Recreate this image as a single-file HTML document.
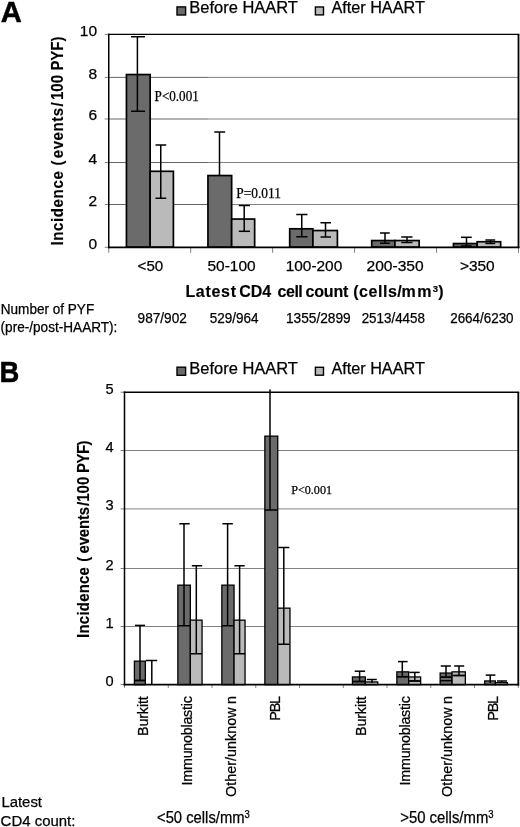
<!DOCTYPE html>
<html lang="en"><head><meta charset="utf-8"><title>Figure</title>
<style>
html,body{margin:0;padding:0;background:#fff;}
body{width:520px;height:827px;overflow:hidden;}
svg{display:block;}
text{fill:#000;stroke:#000;stroke-width:0.25px;}
text[font-weight=bold]{stroke-width:0.15px;}
text.big{stroke-width:0.45px;}
</style></head><body>
<svg width="520" height="827" viewBox="0 0 520 827">
<rect width="520" height="827" fill="#fff"/>
<line x1="108.75" y1="204.5" x2="208" y2="204.5" stroke="#666" stroke-width="1"/>
<line x1="208" y1="204.5" x2="518.5" y2="204.5" stroke="#828282" stroke-width="1"/>
<line x1="108.75" y1="162.5" x2="208" y2="162.5" stroke="#666" stroke-width="1"/>
<line x1="208" y1="162.5" x2="518.5" y2="162.5" stroke="#828282" stroke-width="1"/>
<line x1="108.75" y1="119.0" x2="208" y2="119.0" stroke="#666" stroke-width="1"/>
<line x1="208" y1="119.0" x2="518.5" y2="119.0" stroke="#828282" stroke-width="1"/>
<line x1="108.75" y1="77.4" x2="208" y2="77.4" stroke="#666" stroke-width="1"/>
<line x1="208" y1="77.4" x2="518.5" y2="77.4" stroke="#828282" stroke-width="1"/>
<line x1="104.75" y1="247.3" x2="108.75" y2="247.3" stroke="#828282" stroke-width="1"/>
<line x1="104.75" y1="204.5" x2="108.75" y2="204.5" stroke="#828282" stroke-width="1"/>
<line x1="104.75" y1="162.5" x2="108.75" y2="162.5" stroke="#828282" stroke-width="1"/>
<line x1="104.75" y1="119.0" x2="108.75" y2="119.0" stroke="#828282" stroke-width="1"/>
<line x1="104.75" y1="77.4" x2="108.75" y2="77.4" stroke="#828282" stroke-width="1"/>
<line x1="104.75" y1="34.4" x2="108.75" y2="34.4" stroke="#828282" stroke-width="1"/>
<line x1="108.75" y1="247.3" x2="108.75" y2="252.8" stroke="#828282" stroke-width="1"/>
<line x1="190.7" y1="247.3" x2="190.7" y2="252.8" stroke="#828282" stroke-width="1"/>
<line x1="272.65" y1="247.3" x2="272.65" y2="252.8" stroke="#828282" stroke-width="1"/>
<line x1="354.6" y1="247.3" x2="354.6" y2="252.8" stroke="#828282" stroke-width="1"/>
<line x1="436.55" y1="247.3" x2="436.55" y2="252.8" stroke="#828282" stroke-width="1"/>
<line x1="518.5" y1="247.3" x2="518.5" y2="252.8" stroke="#828282" stroke-width="1"/>
<rect x="126.45" y="74.55" width="23.70" height="172.60" fill="#6b6b6b" stroke="#000" stroke-width="1.7"/>
<rect x="150.15" y="171.30" width="23.25" height="75.85" fill="#bababa" stroke="#000" stroke-width="1.7"/>
<rect x="207.95" y="175.55" width="23.70" height="71.60" fill="#6b6b6b" stroke="#000" stroke-width="1.7"/>
<rect x="231.65" y="219.05" width="23.00" height="28.10" fill="#bababa" stroke="#000" stroke-width="1.7"/>
<rect x="289.70" y="228.80" width="23.20" height="18.35" fill="#6b6b6b" stroke="#000" stroke-width="1.7"/>
<rect x="312.90" y="230.55" width="24.50" height="16.60" fill="#bababa" stroke="#000" stroke-width="1.7"/>
<rect x="371.70" y="240.55" width="23.20" height="6.60" fill="#6b6b6b" stroke="#000" stroke-width="1.7"/>
<rect x="394.90" y="240.55" width="24.25" height="6.60" fill="#bababa" stroke="#000" stroke-width="1.7"/>
<rect x="453.45" y="243.55" width="23.70" height="3.60" fill="#6b6b6b" stroke="#000" stroke-width="1.7"/>
<rect x="477.15" y="241.75" width="23.50" height="5.40" fill="#bababa" stroke="#000" stroke-width="1.7"/>
<line x1="108.75" y1="33.699999999999996" x2="108.75" y2="248.15" stroke="#000" stroke-width="1.5"/>
<line x1="108.0" y1="34.4" x2="519.4" y2="34.4" stroke="#000" stroke-width="1.4"/>
<line x1="518.5" y1="34.4" x2="518.5" y2="248.15" stroke="#000" stroke-width="1.8"/>
<line x1="108.0" y1="247.3" x2="519.4" y2="247.3" stroke="#000" stroke-width="1.7"/>
<line x1="137.4" y1="36.75" x2="137.4" y2="111.25" stroke="#000" stroke-width="1.5"/>
<line x1="131" y1="36.75" x2="145" y2="36.75" stroke="#000" stroke-width="1.5"/>
<line x1="131" y1="111.25" x2="145" y2="111.25" stroke="#000" stroke-width="1.5"/>
<line x1="160.75" y1="145" x2="160.75" y2="198.25" stroke="#000" stroke-width="1.5"/>
<line x1="155.5" y1="145" x2="166.25" y2="145" stroke="#000" stroke-width="1.5"/>
<line x1="155.5" y1="198.25" x2="166.25" y2="198.25" stroke="#000" stroke-width="1.5"/>
<line x1="219.5" y1="132" x2="219.5" y2="175" stroke="#000" stroke-width="1.5"/>
<line x1="214.3" y1="132" x2="225.2" y2="132" stroke="#000" stroke-width="1.5"/>
<line x1="244.2" y1="205.5" x2="244.2" y2="231.3" stroke="#000" stroke-width="1.5"/>
<line x1="238.8" y1="205.5" x2="250" y2="205.5" stroke="#000" stroke-width="1.5"/>
<line x1="238.8" y1="231.3" x2="250" y2="231.3" stroke="#000" stroke-width="1.5"/>
<line x1="301.75" y1="214.5" x2="301.75" y2="236.75" stroke="#000" stroke-width="1.5"/>
<line x1="296.25" y1="214.5" x2="307.5" y2="214.5" stroke="#000" stroke-width="1.5"/>
<line x1="296.25" y1="236.75" x2="307.5" y2="236.75" stroke="#000" stroke-width="1.5"/>
<line x1="325.5" y1="222.75" x2="325.5" y2="237" stroke="#000" stroke-width="1.5"/>
<line x1="320.5" y1="222.75" x2="331" y2="222.75" stroke="#000" stroke-width="1.5"/>
<line x1="320.5" y1="237" x2="331" y2="237" stroke="#000" stroke-width="1.5"/>
<line x1="385" y1="233" x2="385" y2="243.25" stroke="#000" stroke-width="1.5"/>
<line x1="380" y1="233" x2="389.75" y2="233" stroke="#000" stroke-width="1.5"/>
<line x1="380" y1="243.25" x2="389.75" y2="243.25" stroke="#000" stroke-width="1.5"/>
<line x1="407" y1="237" x2="407" y2="242.5" stroke="#000" stroke-width="1.5"/>
<line x1="401.25" y1="237" x2="412.5" y2="237" stroke="#000" stroke-width="1.5"/>
<line x1="401.25" y1="242.5" x2="412.5" y2="242.5" stroke="#000" stroke-width="1.5"/>
<line x1="466.5" y1="237.3" x2="466.5" y2="246" stroke="#000" stroke-width="1.5"/>
<line x1="461" y1="237.3" x2="471.75" y2="237.3" stroke="#000" stroke-width="1.5"/>
<line x1="461" y1="246" x2="471.75" y2="246" stroke="#000" stroke-width="1.5"/>
<line x1="490.5" y1="240" x2="490.5" y2="243.5" stroke="#000" stroke-width="1.5"/>
<line x1="485.4" y1="240" x2="495.2" y2="240" stroke="#000" stroke-width="1.5"/>
<line x1="485.4" y1="243.5" x2="495.2" y2="243.5" stroke="#000" stroke-width="1.5"/>
<text x="97.1" y="248.5" font-family='"Liberation Sans", Arial, Helvetica, sans-serif' font-size="15.5" font-weight="normal" text-anchor="end">0</text>
<text x="97.1" y="205.7" font-family='"Liberation Sans", Arial, Helvetica, sans-serif' font-size="15.5" font-weight="normal" text-anchor="end">2</text>
<text x="97.1" y="163.7" font-family='"Liberation Sans", Arial, Helvetica, sans-serif' font-size="15.5" font-weight="normal" text-anchor="end">4</text>
<text x="97.1" y="120.2" font-family='"Liberation Sans", Arial, Helvetica, sans-serif' font-size="15.5" font-weight="normal" text-anchor="end">6</text>
<text x="97.1" y="78.60000000000001" font-family='"Liberation Sans", Arial, Helvetica, sans-serif' font-size="15.5" font-weight="normal" text-anchor="end">8</text>
<text x="97.1" y="35.6" font-family='"Liberation Sans", Arial, Helvetica, sans-serif' font-size="15.5" font-weight="normal" text-anchor="end">10</text>
<text x="150.4" y="271.4" font-family='"Liberation Sans", Arial, Helvetica, sans-serif' font-size="15" font-weight="normal" text-anchor="middle" textLength="25.6" lengthAdjust="spacingAndGlyphs">&lt;50</text>
<text x="231.6" y="271.4" font-family='"Liberation Sans", Arial, Helvetica, sans-serif' font-size="15" font-weight="normal" text-anchor="middle" textLength="48.2" lengthAdjust="spacingAndGlyphs">50-100</text>
<text x="314.0" y="271.4" font-family='"Liberation Sans", Arial, Helvetica, sans-serif' font-size="15" font-weight="normal" text-anchor="middle" textLength="56.6" lengthAdjust="spacingAndGlyphs">100-200</text>
<text x="395.1" y="271.4" font-family='"Liberation Sans", Arial, Helvetica, sans-serif' font-size="15" font-weight="normal" text-anchor="middle" textLength="57.2" lengthAdjust="spacingAndGlyphs">200-350</text>
<text x="477.3" y="271.4" font-family='"Liberation Sans", Arial, Helvetica, sans-serif' font-size="15" font-weight="normal" text-anchor="middle" textLength="34.8" lengthAdjust="spacingAndGlyphs">&gt;350</text>
<text y="296.5" font-family='"Liberation Sans", Arial, Helvetica, sans-serif' font-size="16" font-weight="bold"><tspan x="185.4" textLength="50.6" lengthAdjust="spacing">Latest</tspan> <tspan x="239.2" textLength="32" lengthAdjust="spacing">CD4</tspan> <tspan x="277.6" textLength="25.2" lengthAdjust="spacing">cell</tspan> <tspan x="305.4" textLength="43" lengthAdjust="spacing">count</tspan> <tspan x="353.2" textLength="48.6" lengthAdjust="spacing">(cells/</tspan><tspan x="401.6">m</tspan><tspan x="417.2">m</tspan><tspan x="432.8" dy="-4.8" font-size="9.5">3</tspan><tspan x="438.2" dy="4.8">)</tspan></text>
<text transform="translate(62.9 245.6) rotate(-90) scale(0.875 1)" font-family='"Liberation Sans", Arial, Helvetica, sans-serif' font-size="17.2" font-weight="bold"><tspan x="0.0" textLength="85.03" lengthAdjust="spacing">Incidence</tspan> <tspan x="91.66">(</tspan><tspan x="99.89" textLength="57.6" lengthAdjust="spacing">events</tspan><tspan x="158.86">/</tspan><tspan x="166.4">100</tspan> <tspan x="200.0" textLength="38.86" lengthAdjust="spacing">PYF)</tspan></text>
<text x="154.6" y="101.2" font-family='"Liberation Serif", "Times New Roman", Times, serif' font-size="13.6" font-weight="normal" text-anchor="start" textLength="44.2" lengthAdjust="spacingAndGlyphs" stroke="none">P&lt;0.001</text>
<text x="236.3" y="197.5" font-family='"Liberation Serif", "Times New Roman", Times, serif' font-size="13.6" font-weight="normal" text-anchor="start" textLength="44.6" lengthAdjust="spacingAndGlyphs" stroke="none">P=0.011</text>
<rect x="177.00" y="6.90" width="8.60" height="8.10" fill="#6b6b6b" stroke="#000" stroke-width="1.4"/>
<text x="189.3" y="12.9" font-family='"Liberation Sans", Arial, Helvetica, sans-serif' font-size="16" font-weight="normal" text-anchor="start" textLength="108.6" lengthAdjust="spacingAndGlyphs">Before HAART</text>
<rect x="315.40" y="7.00" width="8.10" height="7.90" fill="#bababa" stroke="#000" stroke-width="1.4"/>
<text x="331.4" y="12.9" font-family='"Liberation Sans", Arial, Helvetica, sans-serif' font-size="16" font-weight="normal" text-anchor="start" textLength="93.4" lengthAdjust="spacingAndGlyphs">After HAART</text>
<text x="0.8" y="21.7" font-family='"Liberation Sans", Arial, Helvetica, sans-serif' font-size="29.2" font-weight="bold" text-anchor="start" class="big">A</text>
<text x="0.8" y="314.3" font-family='"Liberation Sans", Arial, Helvetica, sans-serif' font-size="14.2" font-weight="normal" text-anchor="start" textLength="93.4" lengthAdjust="spacingAndGlyphs">Number of PYF</text>
<text x="0.6" y="331.9" font-family='"Liberation Sans", Arial, Helvetica, sans-serif' font-size="14.2" font-weight="normal" text-anchor="start" textLength="116.8" lengthAdjust="spacingAndGlyphs">(pre-/post-HAART):</text>
<text x="137.6" y="323.0" font-family='"Liberation Sans", Arial, Helvetica, sans-serif' font-size="14.2" font-weight="normal" text-anchor="start" textLength="49.2" lengthAdjust="spacingAndGlyphs">987/902</text>
<text x="209.7" y="323.0" font-family='"Liberation Sans", Arial, Helvetica, sans-serif' font-size="14.2" font-weight="normal" text-anchor="start" textLength="48.800000000000004" lengthAdjust="spacingAndGlyphs">529/964</text>
<text x="285.9" y="323.0" font-family='"Liberation Sans", Arial, Helvetica, sans-serif' font-size="14.2" font-weight="normal" text-anchor="start" textLength="64.8" lengthAdjust="spacingAndGlyphs">1355/2899</text>
<text x="361.7" y="323.0" font-family='"Liberation Sans", Arial, Helvetica, sans-serif' font-size="14.2" font-weight="normal" text-anchor="start" textLength="63.2" lengthAdjust="spacingAndGlyphs">2513/4458</text>
<text x="450.2" y="323.0" font-family='"Liberation Sans", Arial, Helvetica, sans-serif' font-size="14.2" font-weight="normal" text-anchor="start" textLength="63.4" lengthAdjust="spacingAndGlyphs">2664/6230</text>
<line x1="124.5" y1="626.5" x2="518.3" y2="626.5" stroke="#828282" stroke-width="1"/>
<line x1="124.5" y1="568.5" x2="518.3" y2="568.5" stroke="#828282" stroke-width="1"/>
<line x1="124.5" y1="508.9" x2="518.3" y2="508.9" stroke="#828282" stroke-width="1"/>
<line x1="124.5" y1="450.5" x2="518.3" y2="450.5" stroke="#828282" stroke-width="1"/>
<line x1="120.5" y1="684.5" x2="124.5" y2="684.5" stroke="#828282" stroke-width="1"/>
<line x1="120.5" y1="626.5" x2="124.5" y2="626.5" stroke="#828282" stroke-width="1"/>
<line x1="120.5" y1="568.5" x2="124.5" y2="568.5" stroke="#828282" stroke-width="1"/>
<line x1="120.5" y1="508.9" x2="124.5" y2="508.9" stroke="#828282" stroke-width="1"/>
<line x1="120.5" y1="450.5" x2="124.5" y2="450.5" stroke="#828282" stroke-width="1"/>
<line x1="120.5" y1="392.2" x2="124.5" y2="392.2" stroke="#828282" stroke-width="1"/>
<line x1="124.5" y1="684.6" x2="124.5" y2="688.1" stroke="#828282" stroke-width="1"/>
<line x1="168.25555555555556" y1="684.6" x2="168.25555555555556" y2="688.1" stroke="#828282" stroke-width="1"/>
<line x1="212.01111111111112" y1="684.6" x2="212.01111111111112" y2="688.1" stroke="#828282" stroke-width="1"/>
<line x1="255.76666666666665" y1="684.6" x2="255.76666666666665" y2="688.1" stroke="#828282" stroke-width="1"/>
<line x1="299.52222222222224" y1="684.6" x2="299.52222222222224" y2="688.1" stroke="#828282" stroke-width="1"/>
<line x1="343.27777777777777" y1="684.6" x2="343.27777777777777" y2="688.1" stroke="#828282" stroke-width="1"/>
<line x1="387.0333333333333" y1="684.6" x2="387.0333333333333" y2="688.1" stroke="#828282" stroke-width="1"/>
<line x1="430.7888888888889" y1="684.6" x2="430.7888888888889" y2="688.1" stroke="#828282" stroke-width="1"/>
<line x1="474.5444444444444" y1="684.6" x2="474.5444444444444" y2="688.1" stroke="#828282" stroke-width="1"/>
<line x1="518.3" y1="684.6" x2="518.3" y2="688.1" stroke="#828282" stroke-width="1"/>
<rect x="134.40" y="661.15" width="10.95" height="23.50" fill="#6b6b6b" stroke="#000" stroke-width="1.3"/>
<rect x="177.85" y="585.15" width="12.50" height="99.50" fill="#6b6b6b" stroke="#000" stroke-width="1.3"/>
<rect x="190.35" y="620.15" width="11.70" height="64.50" fill="#bababa" stroke="#000" stroke-width="1.3"/>
<rect x="221.85" y="585.15" width="12.20" height="99.50" fill="#6b6b6b" stroke="#000" stroke-width="1.3"/>
<rect x="234.05" y="620.15" width="11.00" height="64.50" fill="#bababa" stroke="#000" stroke-width="1.3"/>
<rect x="264.85" y="436.15" width="12.90" height="248.50" fill="#6b6b6b" stroke="#000" stroke-width="1.3"/>
<rect x="277.75" y="608.15" width="12.20" height="76.50" fill="#bababa" stroke="#000" stroke-width="1.3"/>
<rect x="352.45" y="676.95" width="12.90" height="7.70" fill="#6b6b6b" stroke="#000" stroke-width="1.3"/>
<rect x="365.35" y="681.95" width="12.40" height="2.70" fill="#bababa" stroke="#000" stroke-width="1.3"/>
<rect x="396.85" y="671.85" width="11.80" height="12.80" fill="#6b6b6b" stroke="#000" stroke-width="1.3"/>
<rect x="408.65" y="676.95" width="12.00" height="7.70" fill="#bababa" stroke="#000" stroke-width="1.3"/>
<rect x="440.15" y="673.05" width="11.90" height="11.60" fill="#6b6b6b" stroke="#000" stroke-width="1.3"/>
<rect x="452.05" y="671.85" width="13.30" height="12.80" fill="#bababa" stroke="#000" stroke-width="1.3"/>
<rect x="484.65" y="680.95" width="10.70" height="3.70" fill="#6b6b6b" stroke="#000" stroke-width="1.3"/>
<rect x="495.35" y="682.65" width="11.90" height="2.00" fill="#bababa" stroke="#000" stroke-width="1.3"/>
<line x1="124.5" y1="391.5" x2="124.5" y2="685.45" stroke="#000" stroke-width="1.5"/>
<line x1="123.75" y1="392.2" x2="519.1999999999999" y2="392.2" stroke="#000" stroke-width="1.4"/>
<line x1="518.3" y1="392.2" x2="518.3" y2="685.45" stroke="#000" stroke-width="1.8"/>
<line x1="123.75" y1="684.6" x2="519.1999999999999" y2="684.6" stroke="#000" stroke-width="1.7"/>
<line x1="140" y1="625.4" x2="140" y2="680.5" stroke="#000" stroke-width="1.5"/>
<line x1="135" y1="625.4" x2="145" y2="625.4" stroke="#000" stroke-width="1.5"/>
<line x1="135" y1="680.5" x2="145" y2="680.5" stroke="#000" stroke-width="1.5"/>
<line x1="134.4" y1="680.5" x2="145.4" y2="680.5" stroke="#000" stroke-width="1.5"/>
<line x1="151.8" y1="660.5" x2="151.8" y2="684.6" stroke="#000" stroke-width="1.5"/>
<line x1="146" y1="660.5" x2="157.2" y2="660.5" stroke="#000" stroke-width="1.5"/>
<line x1="184" y1="523.75" x2="184" y2="625.75" stroke="#000" stroke-width="1.5"/>
<line x1="179.3" y1="523.75" x2="189.7" y2="523.75" stroke="#000" stroke-width="1.5"/>
<line x1="177.8" y1="625.75" x2="190.4" y2="625.75" stroke="#000" stroke-width="1.5"/>
<line x1="196.3" y1="565.75" x2="196.3" y2="653.75" stroke="#000" stroke-width="1.5"/>
<line x1="191.8" y1="565.75" x2="202.2" y2="565.75" stroke="#000" stroke-width="1.5"/>
<line x1="190.4" y1="653.75" x2="202.2" y2="653.75" stroke="#000" stroke-width="1.5"/>
<line x1="227.6" y1="523.75" x2="227.6" y2="625.75" stroke="#000" stroke-width="1.5"/>
<line x1="222.4" y1="523.75" x2="232.8" y2="523.75" stroke="#000" stroke-width="1.5"/>
<line x1="221.8" y1="625.75" x2="234.2" y2="625.75" stroke="#000" stroke-width="1.5"/>
<line x1="239.6" y1="565.75" x2="239.6" y2="653.75" stroke="#000" stroke-width="1.5"/>
<line x1="234.4" y1="565.75" x2="244.7" y2="565.75" stroke="#000" stroke-width="1.5"/>
<line x1="234" y1="653.75" x2="245.2" y2="653.75" stroke="#000" stroke-width="1.5"/>
<line x1="270" y1="389.5" x2="270" y2="510" stroke="#000" stroke-width="1.5"/>
<line x1="264.8" y1="510" x2="277.9" y2="510" stroke="#000" stroke-width="1.5"/>
<line x1="283.8" y1="547.5" x2="283.8" y2="644.25" stroke="#000" stroke-width="1.5"/>
<line x1="278.3" y1="547.5" x2="289.4" y2="547.5" stroke="#000" stroke-width="1.5"/>
<line x1="277.9" y1="644.25" x2="290" y2="644.25" stroke="#000" stroke-width="1.5"/>
<line x1="359.6" y1="671.2" x2="359.6" y2="681.5" stroke="#000" stroke-width="1.5"/>
<line x1="354.7" y1="671.2" x2="365.1" y2="671.2" stroke="#000" stroke-width="1.5"/>
<line x1="354.7" y1="681.5" x2="365.1" y2="681.5" stroke="#000" stroke-width="1.5"/>
<line x1="352.4" y1="681.5" x2="365.4" y2="681.5" stroke="#000" stroke-width="1.5"/>
<line x1="372" y1="679.5" x2="372" y2="683" stroke="#000" stroke-width="1.5"/>
<line x1="366.8" y1="679.5" x2="376.8" y2="679.5" stroke="#000" stroke-width="1.5"/>
<line x1="402.3" y1="661.6" x2="402.3" y2="676.7" stroke="#000" stroke-width="1.5"/>
<line x1="398" y1="661.6" x2="407.6" y2="661.6" stroke="#000" stroke-width="1.5"/>
<line x1="398" y1="676.7" x2="407.6" y2="676.7" stroke="#000" stroke-width="1.5"/>
<line x1="396.8" y1="676.7" x2="408.8" y2="676.7" stroke="#000" stroke-width="1.5"/>
<line x1="414.8" y1="672.4" x2="414.8" y2="681" stroke="#000" stroke-width="1.5"/>
<line x1="409.3" y1="672.4" x2="419.7" y2="672.4" stroke="#000" stroke-width="1.5"/>
<line x1="409.3" y1="681" x2="419.7" y2="681" stroke="#000" stroke-width="1.5"/>
<line x1="409" y1="681" x2="420.8" y2="681" stroke="#000" stroke-width="1.5"/>
<line x1="446" y1="666" x2="446" y2="677.2" stroke="#000" stroke-width="1.5"/>
<line x1="440.7" y1="666" x2="450.9" y2="666" stroke="#000" stroke-width="1.5"/>
<line x1="440.7" y1="677.2" x2="450.9" y2="677.2" stroke="#000" stroke-width="1.5"/>
<line x1="440" y1="677.2" x2="452.2" y2="677.2" stroke="#000" stroke-width="1.5"/>
<line x1="440" y1="680.7" x2="452.2" y2="680.7" stroke="#000" stroke-width="1.5"/>
<line x1="459" y1="666" x2="459" y2="675.5" stroke="#000" stroke-width="1.5"/>
<line x1="454.2" y1="666" x2="464.2" y2="666" stroke="#000" stroke-width="1.5"/>
<line x1="454.2" y1="675.5" x2="464.2" y2="675.5" stroke="#000" stroke-width="1.5"/>
<line x1="452.4" y1="675.5" x2="465.4" y2="675.5" stroke="#000" stroke-width="1.5"/>
<line x1="490.2" y1="675.1" x2="490.2" y2="683" stroke="#000" stroke-width="1.5"/>
<line x1="485.7" y1="675.1" x2="495.4" y2="675.1" stroke="#000" stroke-width="1.5"/>
<line x1="502" y1="681" x2="502" y2="683" stroke="#000" stroke-width="1.5"/>
<line x1="497" y1="681" x2="507" y2="681" stroke="#000" stroke-width="1.5"/>
<text x="113.7" y="686.0" font-family='"Liberation Sans", Arial, Helvetica, sans-serif' font-size="14.6" font-weight="normal" text-anchor="end">0</text>
<text x="113.7" y="628.0" font-family='"Liberation Sans", Arial, Helvetica, sans-serif' font-size="14.6" font-weight="normal" text-anchor="end">1</text>
<text x="113.7" y="570.0" font-family='"Liberation Sans", Arial, Helvetica, sans-serif' font-size="14.6" font-weight="normal" text-anchor="end">2</text>
<text x="113.7" y="510.4" font-family='"Liberation Sans", Arial, Helvetica, sans-serif' font-size="14.6" font-weight="normal" text-anchor="end">3</text>
<text x="113.7" y="452.0" font-family='"Liberation Sans", Arial, Helvetica, sans-serif' font-size="14.6" font-weight="normal" text-anchor="end">4</text>
<text x="113.7" y="393.7" font-family='"Liberation Sans", Arial, Helvetica, sans-serif' font-size="14.6" font-weight="normal" text-anchor="end">5</text>
<text transform="translate(89.2 637.9) rotate(-90) scale(0.93 1)" font-family='"Liberation Sans", Arial, Helvetica, sans-serif' font-size="16.1" font-weight="bold"><tspan x="0.0" textLength="76.13" lengthAdjust="spacing">Incidence</tspan> <tspan x="81.94">(</tspan><tspan x="90.75" textLength="50.11" lengthAdjust="spacing">events</tspan><tspan x="141.72">/</tspan><tspan x="146.45">100</tspan> <tspan x="177.42" textLength="34.84" lengthAdjust="spacing">PYF)</tspan></text>
<text x="291.2" y="493.8" font-family='"Liberation Serif", "Times New Roman", Times, serif' font-size="12.2" font-weight="normal" text-anchor="start" textLength="40.8" lengthAdjust="spacingAndGlyphs" stroke="none">P&lt;0.001</text>
<rect x="177.00" y="367.20" width="8.60" height="8.10" fill="#6b6b6b" stroke="#000" stroke-width="1.4"/>
<text x="189.3" y="373.5" font-family='"Liberation Sans", Arial, Helvetica, sans-serif' font-size="16" font-weight="normal" text-anchor="start" textLength="108.6" lengthAdjust="spacingAndGlyphs">Before HAART</text>
<rect x="315.40" y="367.30" width="8.10" height="7.90" fill="#bababa" stroke="#000" stroke-width="1.4"/>
<text x="331.4" y="373.5" font-family='"Liberation Sans", Arial, Helvetica, sans-serif' font-size="16" font-weight="normal" text-anchor="start" textLength="93.4" lengthAdjust="spacingAndGlyphs">After HAART</text>
<text x="-0.5" y="382.2" font-family='"Liberation Sans", Arial, Helvetica, sans-serif' font-size="29" font-weight="bold" text-anchor="start" textLength="19.8" lengthAdjust="spacingAndGlyphs" class="big">B</text>
<text x="147.8" y="696.2" font-family='"Liberation Sans", Arial, Helvetica, sans-serif' font-size="14.3" font-weight="normal" text-anchor="end" textLength="39.8" lengthAdjust="spacing" transform="rotate(-90 147.8 696.2)">Burkitt</text>
<text x="366.4" y="696.2" font-family='"Liberation Sans", Arial, Helvetica, sans-serif' font-size="14.3" font-weight="normal" text-anchor="end" textLength="39.8" lengthAdjust="spacing" transform="rotate(-90 366.4 696.2)">Burkitt</text>
<text x="192.2" y="696.2" font-family='"Liberation Sans", Arial, Helvetica, sans-serif' font-size="14.3" font-weight="normal" text-anchor="end" textLength="89.2" lengthAdjust="spacing" transform="rotate(-90 192.2 696.2)">Immunoblastic</text>
<text x="410.0" y="696.2" font-family='"Liberation Sans", Arial, Helvetica, sans-serif' font-size="14.3" font-weight="normal" text-anchor="end" textLength="89.2" lengthAdjust="spacing" transform="rotate(-90 410.0 696.2)">Immunoblastic</text>
<text x="235.7" y="696.1" font-family='"Liberation Sans", Arial, Helvetica, sans-serif' font-size="14.3" font-weight="normal" text-anchor="end" textLength="100.8" lengthAdjust="spacing" transform="rotate(-90 235.7 696.1)">Other/unknow<tspan dx="3.4">n</tspan></text>
<text x="452.4" y="696.1" font-family='"Liberation Sans", Arial, Helvetica, sans-serif' font-size="14.3" font-weight="normal" text-anchor="end" textLength="100.8" lengthAdjust="spacing" transform="rotate(-90 452.4 696.1)">Other/unknow<tspan dx="3.4">n</tspan></text>
<text x="280.0" y="695.8" font-family='"Liberation Sans", Arial, Helvetica, sans-serif' font-size="14.5" font-weight="normal" text-anchor="end" textLength="25" lengthAdjust="spacing" transform="rotate(-90 280.0 695.8)">PBL</text>
<text x="497.8" y="695.8" font-family='"Liberation Sans", Arial, Helvetica, sans-serif' font-size="14.5" font-weight="normal" text-anchor="end" textLength="25" lengthAdjust="spacing" transform="rotate(-90 497.8 695.8)">PBL</text>
<text x="1.4" y="807.4" font-family='"Liberation Sans", Arial, Helvetica, sans-serif' font-size="15.2" font-weight="normal" text-anchor="start" textLength="40.6" lengthAdjust="spacingAndGlyphs">Latest</text>
<text x="0.6" y="826.1" font-family='"Liberation Sans", Arial, Helvetica, sans-serif' font-size="15.2" font-weight="normal" text-anchor="start" textLength="74.8" lengthAdjust="spacingAndGlyphs">CD4 count:</text>
<text x="157.0" y="823.2" font-family='"Liberation Sans", Arial, Helvetica, sans-serif' font-size="15.6" font-weight="normal" text-anchor="start" textLength="92.8" lengthAdjust="spacingAndGlyphs">&lt;50 cells/mm<tspan font-size="10" dy="-5">3</tspan></text>
<text x="400.2" y="823.4" font-family='"Liberation Sans", Arial, Helvetica, sans-serif' font-size="15.6" font-weight="normal" text-anchor="start" textLength="93.4" lengthAdjust="spacingAndGlyphs">&gt;50 cells/mm<tspan font-size="10" dy="-5">3</tspan></text>
</svg>
</body></html>
